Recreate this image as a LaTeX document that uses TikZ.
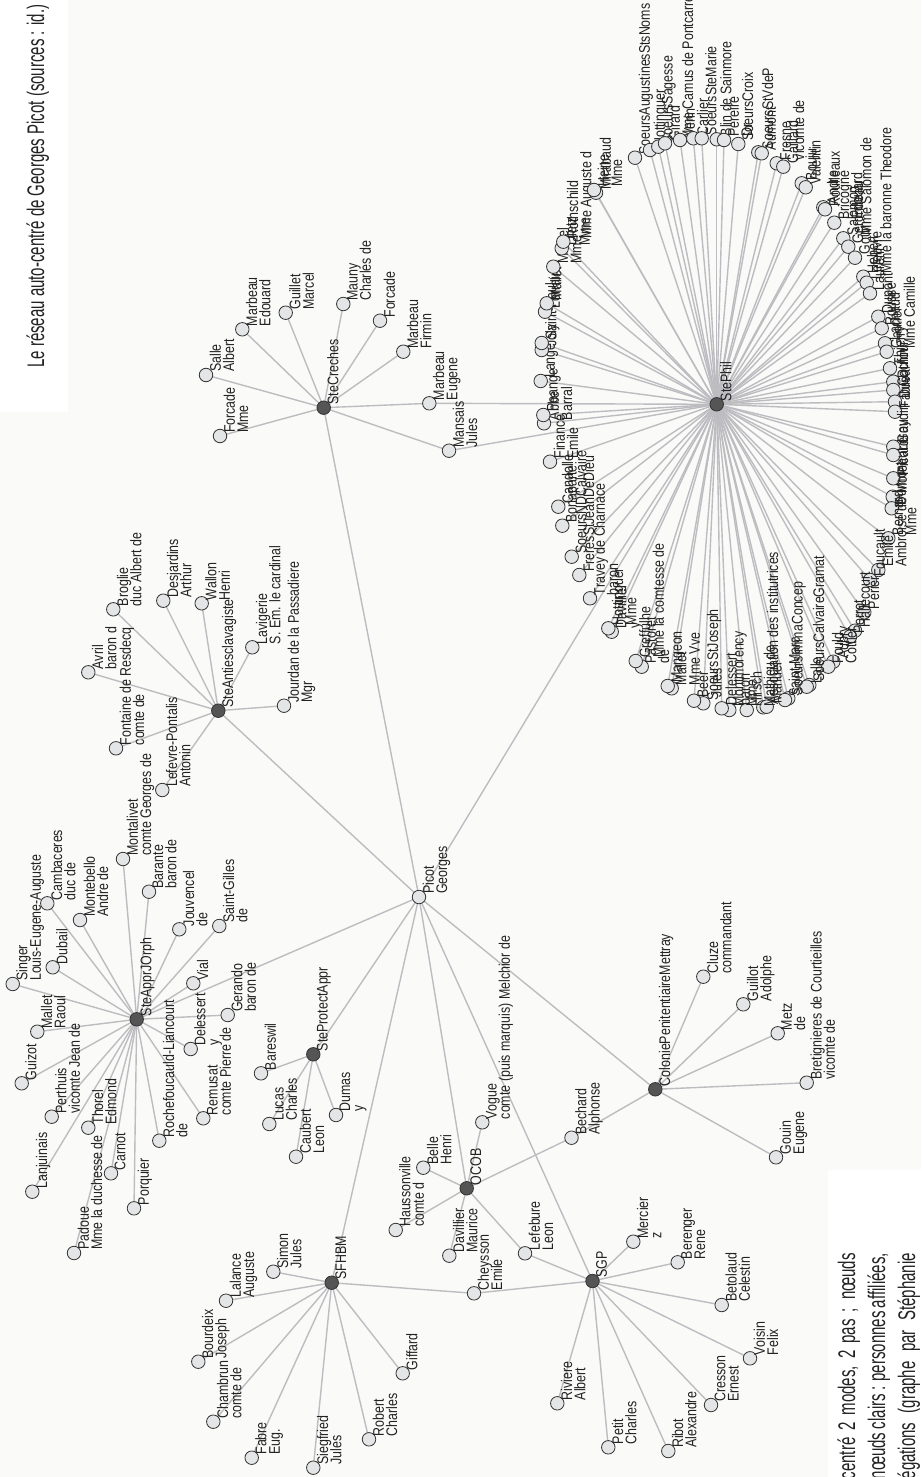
\documentclass[tikz,border=0pt]{standalone}
\usepackage{fontspec}
\setmainfont{Liberation Sans}
\definecolor{bgc}{HTML}{FAFAF8}
\definecolor{leafc}{HTML}{E4E5E7}
\definecolor{hubc}{HTML}{555555}
\definecolor{edgec}{HTML}{BDBDC1}
\definecolor{ringc}{HTML}{333333}
\definecolor{txtc}{HTML}{222222}
\pgfdeclarelayer{back}
\pgfdeclarelayer{edges}
\pgfsetlayers{back,edges,main}
\tikzset{
 leaf/.style={circle,draw=ringc,fill=leafc,minimum size=13.5pt,inner sep=0pt,line width=0.8pt},
 hub/.style={circle,draw=ringc,fill=hubc,minimum size=13.5pt,inner sep=0pt,line width=0.8pt},
 lbl/.style={rotate=90,yscale=1.24,anchor=north west,inner sep=0pt,font={\fontsize{12.4}{10.7}\selectfont},align=left,text=txtc},
 link/.style={draw=edgec,line width=1.4pt},
 bigtext/.style={rotate=90,yscale=1.6,inner sep=0pt,font={\fontsize{15}{18}\selectfont},text=txtc},
}
\newcommand\N[5]{\node[#1] (#2) at (#3,#4) {};\node[lbl] (#2l) at (#3+3.4,#4-3) {#5};}
\begin{document}
\begin{tikzpicture}[x=1pt,y=-1pt]
\lineskiplimit=-100pt
\begin{pgfonlayer}{back}
\fill[bgc] (0,0) rectangle (921,1477);
\fill[white] (0,0) rectangle (68,412);
\fill[white] (828,1170) rectangle (921,1477);
\end{pgfonlayer}
\useasboundingbox (0,0) rectangle (921,1477);
% title and caption
\node[bigtext,anchor=base west] (title) at (44,368) {Le réseau auto-centré de Georges Picot (sources : id.)};
\node[bigtext,anchor=base east] (cap1) at (855,1253) {\makebox[226pt][s]{centré 2 modes, 2 pas ; nœuds}};
\node[bigtext,anchor=base east] (cap2) at (885,1253) {\makebox[226pt][s]{nœuds clairs : personnes affiliées,}};
\node[bigtext,anchor=base east] (cap3) at (915,1253) {\makebox[226pt][s]{égations (graphe par Stéphanie}};
% ego
\N{leaf}{P}{419}{897}{Picot\\Georges}
% hubs
\N{hub}{C}{323.7}{407.7}{SteCreches}
\N{hub}{SP}{716.7}{404.3}{StePhil}
\N{hub}{A}{218.3}{710.7}{SteAntiesclavagiste}
\N{hub}{J}{136.7}{1019.3}{SteApprJOrph}
\N{hub}{S}{313.3}{1054.3}{SteProtectAppr}
\N{hub}{F}{331.7}{1282.7}{SFHBM}
\N{hub}{O}{466.7}{1188.3}{OCOB}
\N{hub}{G}{592.5}{1281}{SGP}
\N{hub}{M}{655.3}{1089.3}{ColoniePenitentiaireMettray}
% SteCreches
\N{leaf}{c1}{220}{436}{Forcade\\Mme}
\N{leaf}{c2}{206}{375}{Salle\\Albert}
\N{leaf}{c3}{242.3}{329.3}{Marbeau\\Edouard}
\N{leaf}{c4}{285.7}{312.7}{Guillet\\Marcel}
\N{leaf}{c5}{343.3}{304}{Mauny\\Charles de}
\N{leaf}{c6}{380}{320.7}{Forcade}
\N{leaf}{c7}{403.3}{351.7}{Marbeau\\Firmin}
\N{leaf}{c8}{429.3}{403.3}{Marbeau\\Eugene}
\N{leaf}{c9}{449}{450.7}{Mansais\\Jules}
% SteAntiesclavagiste
\N{leaf}{a1}{88.3}{672.3}{Avril\\baron d}
\N{leaf}{a2}{113.3}{609.3}{Broglie\\duc Albert de}
\N{leaf}{a3}{163.3}{600.7}{Desjardins\\Arthur}
\N{leaf}{a4}{201.7}{603.3}{Wallon\\Henri}
\N{leaf}{a5}{252.3}{647.3}{Lavigerie\\S. Em. le cardinal}
\N{leaf}{a6}{284}{705.7}{Jourdan de la Passadiere\\Mgr}
\N{leaf}{a7}{116}{748.3}{Fontaine de Resdecq\\comte de}
\N{leaf}{a8}{162.3}{790}{Lefevre-Pontalis\\Antonin}
% SteApprJOrph
\N{leaf}{j1}{12.7}{984}{Singer\\Louis-Eugene-Auguste}
\N{leaf}{j2}{52.7}{967.3}{Dubail}
\N{leaf}{j3}{47.3}{903.3}{Cambaceres\\duc de}
\N{leaf}{j4}{80}{920}{Montebello\\Andre de}
\N{leaf}{j5}{123}{859}{Montalivet\\comte Georges de}
\N{leaf}{j6}{149}{891.7}{Barante\\baron de}
\N{leaf}{j7}{179.3}{929.3}{Jouvencel\\de}
\N{leaf}{j8}{219.3}{926}{Saint-Gilles\\de}
\N{leaf}{j9}{193.3}{983.3}{Vial}
\N{leaf}{j10}{227.7}{1015}{Gerando\\baron de}
\N{leaf}{j11}{190.7}{1049}{Delessert\\y}
\N{leaf}{j12}{203.3}{1118.3}{Remusat\\comte Pierre de}
\N{leaf}{j13}{159.3}{1140.7}{Rochefoucauld-Liancourt\\de}
\N{leaf}{j14}{134}{1208.3}{Porquier}
\N{leaf}{j15}{111}{1173.3}{Carnot}
\N{leaf}{j16}{88.3}{1127.7}{Thorel\\Edmond}
\N{leaf}{j17}{74}{1253}{Padoue\\Mme la duchesse de}
\N{leaf}{j18}{32.3}{1191.7}{Lanjuinais}
\N{leaf}{j19}{51.7}{1116.7}{Perthuis\\vicomte Jean de}
\N{leaf}{j20}{21.7}{1083.3}{Guizot}
\N{leaf}{j21}{37.3}{1031.7}{Mallet\\Raoul}
% SteProtectAppr
\N{leaf}{s1}{261}{1073.3}{Bareswil}
\N{leaf}{s2}{269.3}{1124}{Lucas\\Charles}
\N{leaf}{s3}{296}{1156.7}{Caubert\\Leon}
\N{leaf}{s4}{336}{1115}{Dumas\\y}
% SFHBM
\N{leaf}{f1}{273.3}{1271.7}{Simon\\Jules}
\N{leaf}{f2}{226}{1300.7}{Lalance\\Auguste}
\N{leaf}{f3}{198.3}{1361.7}{Bourdeix\\Joseph}
\N{leaf}{f4}{213.3}{1421.7}{Chambrun\\comte de}
\N{leaf}{f5}{251.7}{1457.7}{Fabre\\Eug.}
\N{leaf}{f6}{313.3}{1467.7}{Siegfried\\Jules}
\N{leaf}{f7}{369}{1439.3}{Robert\\Charles}
\N{leaf}{f8}{402.7}{1373.3}{Giffard}
\N{leaf}{f9}{474}{1293.3}{Cheysson\\Emile}
% OCOB
\N{leaf}{o1}{482.3}{1122.3}{Vogue\\comte (puis marquis) Melchior de}
\N{leaf}{o2}{423.3}{1167.7}{Belle\\Henri}
\N{leaf}{o3}{395.7}{1230}{Haussonville\\comte d}
\N{leaf}{o4}{449.3}{1255.7}{Davillier\\Maurice}
\N{leaf}{o5}{525}{1253.3}{Lefebure\\Leon}
\N{leaf}{o6}{571.5}{1137.7}{Bechard\\Alphonse}
% SGP
\N{leaf}{g1}{633.3}{1241.7}{Mercier\\z}
\N{leaf}{g2}{677.7}{1262.3}{Berenger\\Rene}
\N{leaf}{g3}{721.7}{1305}{Betolaud\\Celestin}
\N{leaf}{g4}{750}{1358.3}{Voisin\\Felix}
\N{leaf}{g5}{711}{1405}{Cresson\\Ernest}
\N{leaf}{g6}{668.3}{1451}{Ribot\\Alexandre}
\N{leaf}{g7}{608.3}{1447.3}{Petit\\Charles}
\N{leaf}{g8}{557.3}{1403.3}{Riviere\\Albert}
% Colonie
\N{leaf}{m1}{703.3}{976.7}{Cluze\\commandant}
\N{leaf}{m2}{743.3}{1004.3}{Guillot\\Adolphe}
\N{leaf}{m3}{777.7}{1033.3}{Metz\\de}
\N{leaf}{m4}{806.7}{1082.7}{Bretignieres de Courtieilles\\vicomte de}
\N{leaf}{m5}{776}{1157.3}{Gouin\\Eugene}
% StePhil ring
\foreach \i/\x/\y/\t in {
1/540.7/381/{Lange},2/541.7/350/{Joly},3/541.7/343/{Saint-Paul},4/545/311.7/{Lorrain},5/546.7/303.3/{Mallet},
6/553.3/266.7/{Michel\\Mme},7/561.7/248.3/{Dietz\\Mme},8/563.3/241.7/{Rothschild\\Mme Auguste d},9/596/192.7/{Mirabaud},10/594/190/{Heine\\Mme},
11/635/157.7/{SoeursAugustinesStsNoms},12/650/150/{Hottinguer},13/658.3/146.7/{SoeursSagesse},
14/665/143.3/{Girard\\Mme Camus de Pontcarre},15/680/140/{Verin},16/693.3/138.3/{Carlier},
17/701.7/138.3/{SoeursSteMarie},18/716.7/139.3/{Blin de Sainmore},19/724/140/{Pereire\\Dr},
20/738.3/144/{SoeursCroix},21/758.3/152.3/{SoeursStVdeP},22/761.7/153.3/{Aumont},
23/776.7/163.3/{Fresne\\vicomte de},24/783.3/166.7/{Gaillard},25/801.7/183.3/{Bouju},26/805.7/187.3/{Valentin},
27/823.3/207.3/{Andre},28/825/209.3/{Roulleaux},29/834.3/222.7/{Bricogne\\Edouard},30/843.3/238.3/{Salomon\\Mme Salomon de},
31/848.3/246.7/{Gerondeau},32/855/257.7/{Gouin},33/863.3/276.7/{Hebert\\Mme la baronne Theodore},34/866.7/282.7/{Lefebvre},35/870/293.3/{Laurent},
36/878.3/316.7/{Dupont},37/881.7/328.3/{Rousse},38/885/343.3/{Lachaud},39/886.7/351.7/{Gautier\\Mme Camille},40/890/368.3/{Thierry},
41/893.3/381.7/{Dufour},42/893.3/390/{Cochin},43/895/401.7/{Duval},44/895/411.7/{Fabre},45/893.3/446.7/{Gaudin},
46/893.3/455/{Leroy},47/893.3/478.3/{Picard},48/892.7/496.7/{Moreau},49/891.7/508.3/{Dumont},50/888.3/538.3/{Bernard\\Mme},
51/878.3/570/{Emile\\Ambroise de},52/870/580/{Foucault},53/864.3/612.3/{Perier},54/855/630.7/{Hallecourt},55/850/636.7/{Perrot},
56/833.3/661.7/{Aubry},57/828.3/666.7/{Fould\\Cottier},58/809.3/685/{SoeursCalvaireGramat},59/806.7/686.7/{Lalle},60/788.3/698.3/{SoeursImmaConcep},
61/785/700/{Saint-Marc},62/763.3/707.3/{Association des institutrices},63/766.7/706.7/{Manuel},64/746.7/710/{Hirsch\\Mathieu de},65/729.3/710/{Montmorency\\Mme},
66/721.7/708.3/{Delessert\\baron},67/703.3/703.3/{SoeursStJoseph},68/694/700.7/{Beer\\Jules},69/671.7/688.3/{Mallet\\Mme Vve},70/667.7/686/{Mangeon},
71/641.7/666.7/{Pastoret\\de},72/635.7/661/{Greffulhe\\Mme la comtesse de},73/611.7/631.7/{Davillier\\y},74/608.3/628.3/{Hottinguer\\Mme},75/590/598.3/{Travey de Charnace\\baron},
76/579.3/575/{FreresStJeanDeDieu},77/571.7/556.7/{SoeursNDCalvaire},78/562.3/525.7/{Bonaparte},79/558.3/506.7/{Candolle},80/550/461.7/{Finance\\Emile},
81/544/423.3/{Abbe\\Barral},82/543.3/415/{Peange}}
{\N{leaf}{p\i}{\x}{\y}{\t}}
% edges
\begin{pgfonlayer}{edges}
\foreach \h in {C,SP,A,J,S,F,O,G,M} \draw[link] (P.center) -- (\h.center);
\foreach \l in {c1,c2,c3,c4,c5,c6,c7,c8,c9} \draw[link] (C.center) -- (\l.center);
\foreach \l in {c8,c9} \draw[link] (SP.center) -- (\l.center);
\foreach \i in {1,...,82} \draw[link] (SP.center) -- (p\i.center);
\foreach \i in {1,...,8} \draw[link] (A.center) -- (a\i.center);
\foreach \i in {1,...,21} \draw[link] (J.center) -- (j\i.center);
\foreach \i in {1,...,4} \draw[link] (S.center) -- (s\i.center);
\foreach \i in {1,...,9} \draw[link] (F.center) -- (f\i.center);
\foreach \i in {1,...,6} \draw[link] (O.center) -- (o\i.center);
\foreach \l in {g1,g2,g3,g4,g5,g6,g7,g8,f9,o5} \draw[link] (G.center) -- (\l.center);
\foreach \l in {m1,m2,m3,m4,m5,o6} \draw[link] (M.center) -- (\l.center);
\end{pgfonlayer}
\end{tikzpicture}
\end{document}
